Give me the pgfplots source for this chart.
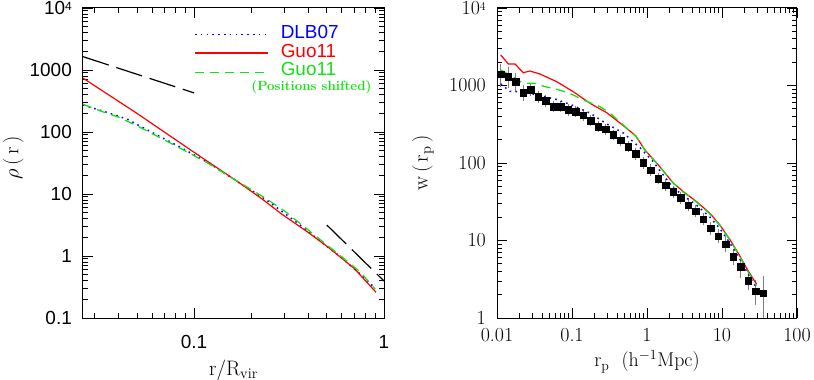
\documentclass[border=0pt]{standalone}
\usepackage{fontspec}
\setsansfont{Liberation Sans}
\usepackage{pgfplots}
\pgfplotsset{compat=1.18}
\definecolor{mygreen}{RGB}{20,225,20}
\pgfplotsset{
  blueline/.style={blue, line width=1.5bp, dash pattern=on 1.6bp off 4.2bp},
  redline/.style={red, line width=1.2bp},
  greenline/.style={mygreen, line width=1.3bp, dash pattern=on 9bp off 6bp},
  refline/.style={black, line width=1.2bp, dash pattern=on 27bp off 8bp}
}
\begin{document}
\begin{tikzpicture}
\useasboundingbox (0,0) rectangle (814bp,380bp);
% left panel: density profile
\begin{axis}[scale only axis, xmode=log, ymode=log, axis line style={line width=1bp},
  tick style={black, line width=0.8bp}, major tick length=10bp, minor tick length=5.5bp,
  tick align=inside, xtick pos=both, ytick pos=both,
  xticklabel pos=bottom, yticklabel pos=left,
  yticklabel style={anchor=east, xshift=-11bp, inner sep=0pt},
  at={(83bp,62bp)}, anchor=south west, width=301bp, height=310bp,
  xmin=0.026, xmax=1, ymin=0.1, ymax=1e4,
  xtick={0.1,1}, xticklabels={0.1,1},
  minor xtick={0.03,0.04,0.05,0.06,0.07,0.08,0.09,0.2,0.3,0.4,0.5,0.6,0.7,0.8,0.9},
  ytick={0.1,1,10,100,1000,10000},
  yticklabels={0.1,1,10,100,1000,\raisebox{-6.5bp}[0pt][0pt]{10\raisebox{4bp}{\fontsize{12}{12}\selectfont 4}}},
  minor ytick={0.2,0.3,0.4,0.5,0.6,0.7,0.8,0.9,2,3,4,5,6,7,8,9,20,30,40,50,60,70,80,90,200,300,400,500,600,700,800,900,2000,3000,4000,5000,6000,7000,8000,9000},
  ticklabel style={font=\sffamily\fontsize{19}{19}\selectfont},
  xticklabel style={anchor=base, yshift=-30bp, inner sep=0pt},
  xlabel={$\mathrm{r/R_{vir}}$},
  xlabel style={at={(axis description cs:0.5,-0.184)}, anchor=base, font=\fontsize{21}{21}\selectfont},
  ylabel={$\rho\,(\,\mathrm{r}\,)$},
  ylabel style={at={(axis description cs:-0.232,0.516)}, anchor=center, font=\fontsize{21}{21}\selectfont},
  legend image code/.code={\draw[#1] (0bp,0bp) -- (73bp,0bp);},
  legend style={draw=none, fill=none, at={(axis description cs:0.369,0.945)}, anchor=north west,
    inner sep=0pt, row sep=0pt, column sep=12bp, font=\sffamily\fontsize{19}{19}\selectfont,
    nodes={inner sep=0pt, text height=13.7bp, text depth=4.8bp}},
  legend cell align=left]
\addlegendimage{color=blue, line width=1.5bp, dash pattern=on 1.6bp off 4.2bp}
\addlegendentry{\textcolor{blue}{DLB07}}
\addlegendimage{color=red, line width=1.2bp}
\addlegendentry{\textcolor{red}{Guo11}}
\addlegendimage{legend image code/.code={\draw[draw=mygreen, line width=1.5bp, dash pattern=on 9bp off 6bp] (0bp,-1bp) -- (73bp,-1bp);}}
\addlegendentry{\textcolor{mygreen}{Guo11}}
\addplot[blueline, forget plot] coordinates {(0.026,272) (0.033,218) (0.0443,162) (0.0506,130) (0.0637,89.5) (0.0844,57) (0.117,32.8) (0.150,20.2) (0.171,15.5) (0.238,8.2) (0.351,3.40) (0.45,1.84) (0.592,0.96) (0.75,0.51) (0.90,0.30)};
\addplot[redline, forget plot] coordinates {(0.026,740) (0.05,200) (0.1,47) (0.175,14.8) (0.232,8.0) (0.285,4.9) (0.396,2.44) (0.506,1.40) (0.693,0.64) (0.908,0.26)};
\addplot[greenline, forget plot] coordinates {(0.026,280) (0.033,212) (0.040,174) (0.0506,124) (0.0637,86) (0.0844,55) (0.117,32) (0.150,20) (0.171,15.8) (0.238,8.5) (0.30,5.3) (0.351,3.6) (0.45,1.95) (0.592,1.0) (0.75,0.55) (0.90,0.29)};
\addplot[refline, forget plot] coordinates {(0.026,1642) (0.1,427)};
\addplot[refline, forget plot] coordinates {(0.5,3.16) (1,0.395)};
\node[anchor=west, text=mygreen, inner sep=0pt, font=\bfseries\fontsize{13.4}{13.4}\selectfont] at (axis description cs:0.559,0.745) {(Positions shifted)};
\end{axis}
% right panel: projected correlation function
\begin{axis}[scale only axis, xmode=log, ymode=log, axis line style={line width=1bp},
  tick style={black, line width=0.8bp}, major tick length=10bp, minor tick length=5.5bp,
  tick align=inside, xtick pos=both, ytick pos=both,
  xticklabel pos=bottom, yticklabel pos=left,
  yticklabel style={anchor=east, xshift=-11bp, inner sep=0pt},
  at={(497bp,62bp)}, anchor=south west, width=300bp, height=310bp,
  xmin=0.01, xmax=100, ymin=1, ymax=1e4,
  xtick={0.01,0.1,1,10,100}, xticklabels={0.01,0.1,1,10,100},
  minor xtick={0.02,0.03,0.04,0.05,0.06,0.07,0.08,0.09,0.2,0.3,0.4,0.5,0.6,0.7,0.8,0.9,2,3,4,5,6,7,8,9,20,30,40,50,60,70,80,90},
  ytick={1,10,100,1000,10000},
  yticklabels={1,10,100,1000,\raisebox{-6.5bp}[0pt][0pt]{10\raisebox{4bp}{\fontsize{12}{12}\selectfont 4}}},
  minor ytick={2,3,4,5,6,7,8,9,20,30,40,50,60,70,80,90,200,300,400,500,600,700,800,900,2000,3000,4000,5000,6000,7000,8000,9000},
  ticklabel style={font=\fontsize{20}{20}\selectfont},
  xticklabel style={anchor=base, yshift=-23bp, inner sep=0pt},
  xlabel={$\mathrm{r_p}$\ \ ($\mathrm{h^{-1}Mpc}$)},
  xlabel style={at={(axis description cs:0.5,-0.158)}, anchor=base, font=\fontsize{20}{20}\selectfont},
  ylabel={$\mathrm{w\,(\,r_p\,)}$},
  ylabel style={at={(axis description cs:-0.247,0.5)}, anchor=center, font=\fontsize{21}{21}\selectfont}]
\addplot[only marks, mark=square*, mark size=3.3bp, black,
  error bars/.cd, y dir=both, y explicit,
  error bar style={gray, line width=0.8bp},
  error mark options={gray, mark size=4bp, line width=0.8bp}]
  coordinates {
  (0.01122,1396) +- (0,305) (0.01413,1300) +- (0,250) (0.01778,1120) +- (0,165) (0.02239,807) +- (0,90)
  (0.02818,875) +- (0,60) (0.03548,717) +- (0,45) (0.04467,631) +- (0,35) (0.05623,533) +- (0,28)
  (0.07079,533) +- (0,25) (0.08913,483) +- (0,22) (0.1122,459) +- (0,20) (0.1413,416) +- (0,18)
  (0.1778,352) +- (0,15) (0.2239,294) +- (0,13) (0.2818,272) +- (0,12) (0.3548,230) +- (0,10)
  (0.4467,198) +- (0,9) (0.5623,162) +- (0,8) (0.7079,131) +- (0,7) (0.8913,101) +- (0,5.5)
  (1.122,81) +- (0,4.5) (1.413,63) +- (0,3.5) (1.778,52) +- (0,3) (2.239,42.7) +- (0,2.5)
  (2.818,35.7) +- (0,2.2) (3.548,28.7) +- (0,1.8) (4.467,24.0) +- (0,1.6) (5.623,18.9) +- (0,1.3)
  (7.079,14.4) +- (0,1.1) (8.913,11.4) +- (0,1.0) (11.22,9.0) +- (0,1.1) (14.13,6.18) +- (0,0.8)
  (17.78,4.59) +- (0,0.9) (22.39,3.03) +- (0,0.46) (28.18,2.23) +- (0,0.55) (35.48,2.08) +- (0,0.98)};
\addplot[blueline] coordinates {(0.0112,1050) (0.0149,840) (0.022,830) (0.0374,740) (0.0625,660) (0.104,550) (0.174,440) (0.29,320) (0.49,242) (0.82,155) (1.2,105) (1.45,82) (2.24,48) (3.05,38) (4.59,28.5) (6.92,20) (9.4,14.2) (12.8,9.2) (16.5,6.2) (21.3,4.0) (27.5,2.65) (29,2.5)};
\addplot[redline] coordinates {(0.0112,2476) (0.0142,1893) (0.0174,1893) (0.0224,1463) (0.0275,1538) (0.0374,1407) (0.0625,1120) (0.104,832) (0.174,589) (0.29,446) (0.415,341) (0.707,225) (0.94,147) (1.45,92) (2.24,55) (3.05,42.7) (4.59,31.7) (6.92,22.4) (9.4,15.8) (12.8,10.2) (16.5,6.83) (21.3,4.38) (27.5,2.94) (29,2.75)};
\addplot[greenline] coordinates {(0.0112,1585) (0.0149,1365) (0.0224,1067) (0.032,1067) (0.0437,966) (0.0563,919) (0.0806,832) (0.104,754) (0.141,650) (0.174,600) (0.237,533) (0.323,438) (0.415,352) (0.707,222) (0.94,146) (1.45,91) (2.24,55) (3.05,42) (4.59,31.2) (6.92,22) (9.4,15.6) (12.8,10.1) (16.5,6.7) (21.3,4.25) (27.5,2.8) (29,2.62)};
\end{axis}
\end{tikzpicture}
\end{document}
